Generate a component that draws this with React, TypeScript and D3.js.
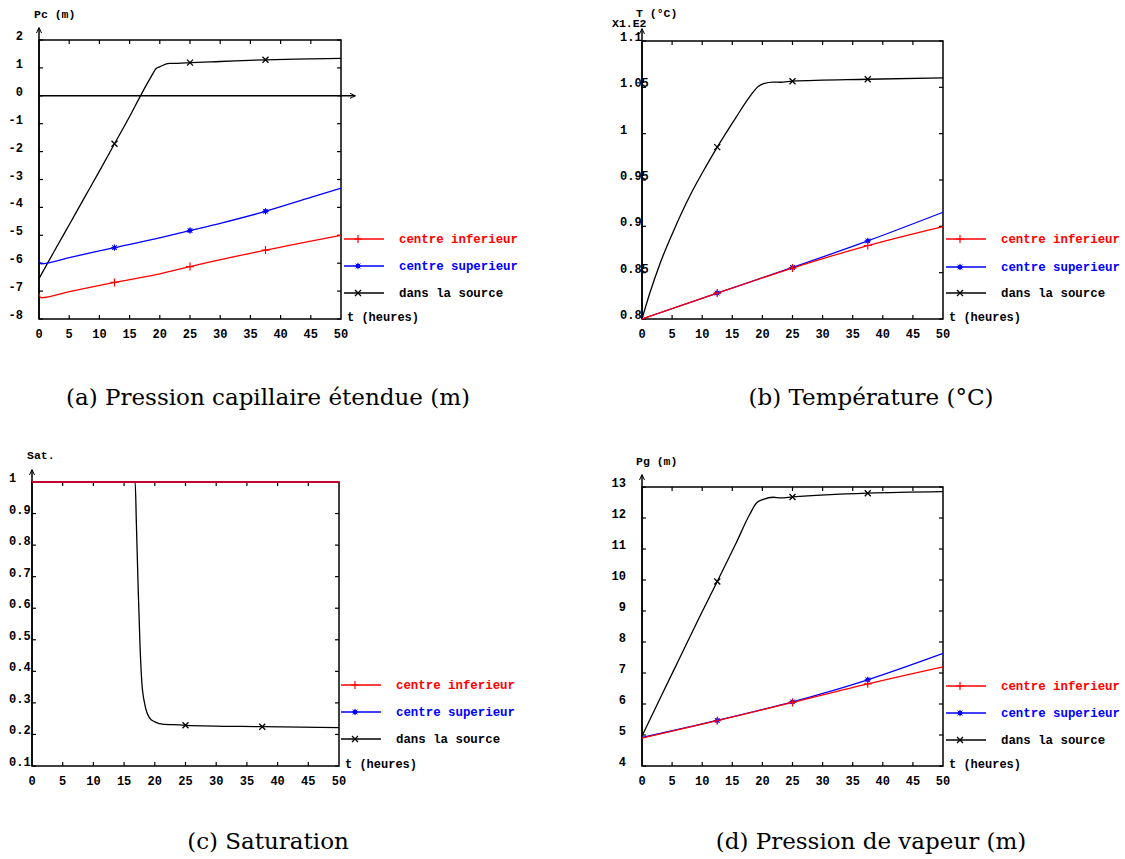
import React from 'react';
import * as d3 from 'd3';

type Pt = [number, number];

// ---------- shared ----------
const xTicks = [0, 5, 10, 15, 20, 25, 30, 35, 40, 45, 50];
const legendLabels = ['centre inferieur', 'centre superieur', 'dans la source'];
const seriesColors = ['#ff0000', '#0000ff', '#000000'];
const markerTimes = [12.5, 25, 37.5];
const xAxisTitle = 't (heures)';

// ---------- (a) Pression capillaire ----------
const pcTicks = [-8, -7, -6, -5, -4, -3, -2, -1, 0, 1, 2];
const pcInferieur: Pt[] = [[0, -7.09], [0.3, -7.24], [5, -7.02], [12.5, -6.69], [19.4, -6.41], [25, -6.12], [37.5, -5.53], [50, -5.0]];
const pcSuperieur: Pt[] = [[0, -5.88], [0.3, -6.02], [5, -5.8], [12.5, -5.44], [19.4, -5.12], [25, -4.83], [30, -4.57], [37.5, -4.14], [45, -3.64], [50, -3.31]];
const pcSource: Pt[] = [[0, -6.55], [2.5, -5.58], [5, -4.62], [7.5, -3.66], [10, -2.7], [12.5, -1.72], [15, -0.74], [17, 0.08], [18.5, 0.66], [19.4, 0.98], [20, 1.04], [21.6, 1.16], [23, 1.16], [25, 1.19], [30, 1.23], [37.5, 1.29], [45, 1.32], [50, 1.34]];

// ---------- (b) Temperature ----------
const tTicks = [0.8, 0.85, 0.9, 0.95, 1.0, 1.05, 1.1];
const tTickLabels = ['0.8', '0.85', '0.9', '0.95', '1', '1.05', '1.1'];
const tInferieur: Pt[] = [[0, 0.8], [12.5, 0.828], [25, 0.855], [37.5, 0.8793], [50, 0.8998]];
const tSuperieur: Pt[] = [[0, 0.8], [12.5, 0.828], [25, 0.8556], [37.5, 0.8843], [50, 0.9152]];
const tSource: Pt[] = [[0, 0.8], [1.3, 0.828], [3, 0.86], [5.2, 0.8945], [8, 0.9335], [10.7, 0.9655], [12.5, 0.9855], [15.7, 1.0185], [17.9, 1.04], [19.3, 1.051], [20.2, 1.054], [21.8, 1.0556], [23, 1.0555], [25, 1.0566], [37.5, 1.0587], [50, 1.0602]];

// ---------- (c) Saturation ----------
const satTicks = [0.1, 0.2, 0.3, 0.4, 0.5, 0.6, 0.7, 0.8, 0.9, 1.0];
const satTickLabels = ['0.1', '0.2', '0.3', '0.4', '0.5', '0.6', '0.7', '0.8', '0.9', '1'];
const satInferieur: Pt[] = [[0, 1], [12.5, 1], [25, 1], [37.5, 1], [50, 1]];
const satSuperieur: Pt[] = [[0, 1], [12.5, 1], [25, 1], [37.5, 1], [50, 1]];
const satSource: Pt[] = [[0, 1], [12.5, 1], [16.8, 1], [17.0, 0.869], [17.3, 0.658], [17.6, 0.478], [17.9, 0.362], [18.4, 0.293], [19.2, 0.251], [20, 0.24], [21.5, 0.232], [23, 0.231], [25, 0.229], [37.5, 0.2246], [50, 0.2215]];

// ---------- (d) Pression de vapeur ----------
const pgTicks = [4, 5, 6, 7, 8, 9, 10, 11, 12, 13];
const pgInferieur: Pt[] = [[0, 4.9], [12.5, 5.46], [25, 6.05], [37.5, 6.65], [50, 7.2]];
const pgSuperieur: Pt[] = [[0, 4.92], [12.5, 5.47], [25, 6.07], [37.5, 6.78], [50, 7.63]];
const pgSource: Pt[] = [[0, 4.97], [3, 6.18], [6.3, 7.5], [9.6, 8.82], [12.5, 9.95], [15.7, 11.22], [17.9, 12.12], [19.05, 12.49], [20.15, 12.6], [21.8, 12.67], [23, 12.65], [25, 12.68], [37.5, 12.8], [50, 12.85]];

const captions = [
  '(a) Pression capillaire étendue (m)',
  '(b) Température (°C)',
  '(c) Saturation',
  '(d) Pression de vapeur (m)',
];

const MONO = '"Liberation Mono", "DejaVu Sans Mono", monospace';
const SERIF = '"DejaVu Serif", "Liberation Serif", serif';

interface PanelProps {
  left: number; right: number; top: number; bottom: number;
  yDomain: [number, number];
  yTicks: number[];
  yTickLabels: string[];
  yLabelX: number;
  yLabelAnchor: 'start' | 'end';
  titles: { text: string; x: number; y: number }[];
  series: Pt[][];
  legendX: number;
  legendRows: number[];
  zeroArrow?: boolean;
  caption: string;
  captionX: number;
  captionY: number;
}

function Marker({ kind, x, y, color }: { kind: number; x: number; y: number; color: string }) {
  if (kind === 0) {
    return <path d={`M${x - 4},${y}H${x + 4}M${x},${y - 4}V${y + 4}`} stroke={color} strokeWidth={1.2} fill="none" />;
  }
  if (kind === 1) {
    return (
      <g>
        <circle cx={x} cy={y} r={2.2} fill={color} />
        <path d={`M${x - 3.2},${y}H${x + 3.2}M${x},${y - 3.2}V${y + 3.2}M${x - 2.4},${y - 2.4}L${x + 2.4},${y + 2.4}M${x - 2.4},${y + 2.4}L${x + 2.4},${y - 2.4}`} stroke={color} strokeWidth={1} />
      </g>
    );
  }
  return <path d={`M${x - 3},${y - 3}L${x + 3},${y + 3}M${x - 3},${y + 3}L${x + 3},${y - 3}`} stroke={color} strokeWidth={1.3} fill="none" />;
}

function Panel(p: PanelProps) {
  const x = d3.scaleLinear().domain([0, 50]).range([p.left, p.right]);
  const y = d3.scaleLinear().domain(p.yDomain).range([p.bottom, p.top]);
  const line = d3.line<Pt>().x(d => x(d[0])).y(d => y(d[1])).curve(d3.curveMonotoneX);
  const tickLen = 4;
  const order = [2, 1, 0];
  return (
    <g>
      <rect x={p.left} y={p.top} width={p.right - p.left} height={p.bottom - p.top} fill="none" stroke="#000" strokeWidth={1.5} />
      <line x1={p.left} y1={p.bottom} x2={p.left} y2={p.top - 12} stroke="#000" strokeWidth={1.5} />
      <path d={`M${p.left - 2.5},${p.top - 7}L${p.left},${p.top - 12.5}L${p.left + 2.5},${p.top - 7}`} fill="none" stroke="#000" strokeWidth={1} />
      {xTicks.slice(1, -1).map(t => (
        <g key={'xt' + t}>
          <line x1={x(t)} x2={x(t)} y1={p.top} y2={p.top + tickLen} stroke="#000" strokeWidth={1.2} />
          <line x1={x(t)} x2={x(t)} y1={p.bottom} y2={p.bottom - tickLen} stroke="#000" strokeWidth={1.2} />
        </g>
      ))}
      {p.yTicks.map(v => (
        <g key={'yt' + v}>
          <line x1={p.left} x2={p.left + tickLen} y1={y(v)} y2={y(v)} stroke="#000" strokeWidth={1.2} />
          <line x1={p.right} x2={p.right - tickLen} y1={y(v)} y2={y(v)} stroke="#000" strokeWidth={1.2} />
        </g>
      ))}
      {p.yTicks.map((v, i) => (
        <text key={'yl' + v} x={p.yLabelX} y={y(v)} textAnchor={p.yLabelAnchor} fontFamily={MONO} fontWeight="bold" fontSize={12} fill="#000">
          {p.yTickLabels[i]}
        </text>
      ))}
      {xTicks.map(t => (
        <text key={'xl' + t} x={x(t)} y={p.bottom + 19} textAnchor="middle" fontFamily={MONO} fontWeight="bold" fontSize={12} fill="#000">
          {t}
        </text>
      ))}
      {p.zeroArrow && (
        <g>
          <line x1={p.left} x2={p.right + 14} y1={y(0)} y2={y(0)} stroke="#000" strokeWidth={1.5} />
          <path d={`M${p.right + 9},${y(0) - 2.5}L${p.right + 14.5},${y(0)}L${p.right + 9},${y(0) + 2.5}`} fill="none" stroke="#000" strokeWidth={1} />
        </g>
      )}
      {p.titles.map((t, i) => (
        <text key={'ti' + i} x={t.x} y={t.y} fontFamily={MONO} fontWeight="bold" fontSize={11.5} fill="#000">{t.text}</text>
      ))}
      <text x={p.right + 6} y={p.bottom + 2} fontFamily={MONO} fontWeight="bold" fontSize={12} fill="#000">{xAxisTitle}</text>
      {order.map(si => (
        <path key={'s' + si} d={line(p.series[si]) || ''} fill="none" stroke={seriesColors[si]} strokeWidth={1.3} />
      ))}
      {order.map(si => (
        <g key={'m' + si}>
          {p.series[si]
            .filter(d => markerTimes.includes(d[0]) && d[1] < p.yDomain[1])
            .map(d => <Marker key={d[0]} kind={si} x={x(d[0])} y={y(d[1])} color={seriesColors[si]} />)}
        </g>
      ))}
      {legendLabels.map((lab, i) => (
        <g key={'lg' + i}>
          <line x1={p.legendX} x2={p.legendX + 40} y1={p.legendRows[i]} y2={p.legendRows[i]} stroke={seriesColors[i]} strokeWidth={1.3} />
          <Marker kind={i} x={p.legendX + 14} y={p.legendRows[i]} color={seriesColors[i]} />
          <text x={p.legendX + 55} y={p.legendRows[i] + 4} fontFamily={MONO} fontWeight="bold" fontSize={12.4} fill={seriesColors[i]}>{lab}</text>
        </g>
      ))}
      <text x={p.captionX} y={p.captionY} textAnchor="middle" fontFamily={SERIF} fontSize={23} fill="#000">{p.caption}</text>
    </g>
  );
}

export default function App() {
  const fmt = (v: number) => String(v);
  return (
    <svg width={1125} height={859} style={{ position: 'absolute', left: 0, top: 0, background: '#fff' }}>
      <rect width={1125} height={859} fill="#fff" />
      <Panel
        left={39} right={341} top={40} bottom={319}
        yDomain={[-8, 2]} yTicks={pcTicks} yTickLabels={pcTicks.map(fmt)}
        yLabelX={23} yLabelAnchor="end"
        titles={[{ text: 'Pc (m)', x: 34, y: 18 }]}
        series={[pcInferieur, pcSuperieur, pcSource]}
        legendX={344} legendRows={[239, 266, 293]}
        zeroArrow
        caption={captions[0]} captionX={268} captionY={405}
      />
      <Panel
        left={642} right={943} top={41} bottom={319}
        yDomain={[0.8, 1.1]} yTicks={tTicks} yTickLabels={tTickLabels}
        yLabelX={620} yLabelAnchor="start"
        titles={[{ text: 'T (°C)', x: 636, y: 17 }, { text: 'X1.E2', x: 612, y: 27 }]}
        series={[tInferieur, tSuperieur, tSource]}
        legendX={946} legendRows={[239, 267, 293]}
        caption={captions[1]} captionX={871} captionY={405}
      />
      <Panel
        left={32} right={339} top={482} bottom={766}
        yDomain={[0.1, 1]} yTicks={satTicks} yTickLabels={satTickLabels}
        yLabelX={9} yLabelAnchor="start"
        titles={[{ text: 'Sat.', x: 27, y: 459 }]}
        series={[satInferieur, satSuperieur, satSource]}
        legendX={341} legendRows={[685, 712, 739]}
        caption={captions[2]} captionX={268} captionY={849}
      />
      <Panel
        left={642} right={943} top={487} bottom={766}
        yDomain={[4, 13]} yTicks={pgTicks} yTickLabels={pgTicks.map(fmt)}
        yLabelX={626} yLabelAnchor="end"
        titles={[{ text: 'Pg (m)', x: 636, y: 465 }]}
        series={[pgInferieur, pgSuperieur, pgSource]}
        legendX={946} legendRows={[686, 713, 740]}
        caption={captions[3]} captionX={871} captionY={849}
      />
    </svg>
  );
}
